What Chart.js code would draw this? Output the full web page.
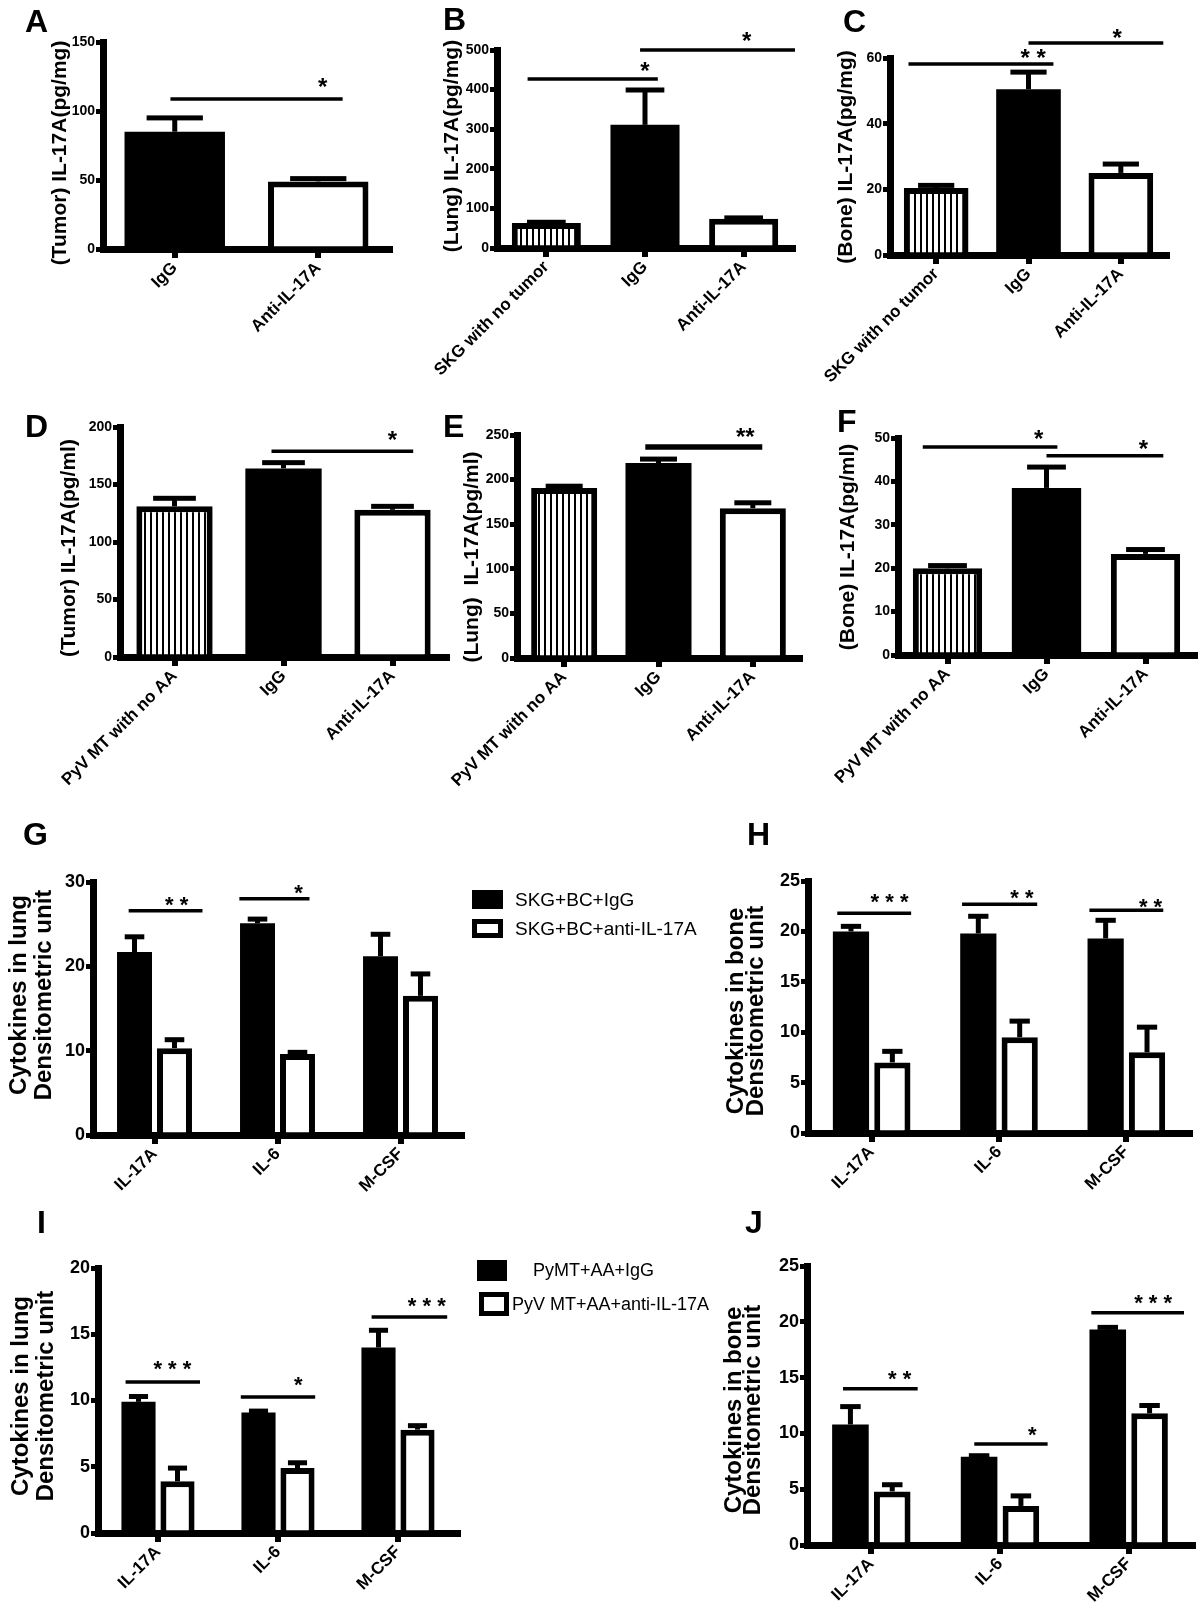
<!DOCTYPE html>
<html>
<head>
<meta charset="utf-8">
<script src="https://cdn.jsdelivr.net/npm/chart.js@4.4.0/dist/chart.umd.min.js"></script>
<style>
  body { margin: 0; background: #fff; width: 1200px; height: 1617px; position: relative; overflow: hidden; }
  canvas { position: absolute; }
</style>
</head>
<body>
<script>
// ---- data ----
const groupsTumor = ["IgG", "Anti-IL-17A"];
const groupsSKG = ["SKG with no tumor", "IgG", "Anti-IL-17A"];
const groupsPyMT = ["PyV MT with no AA", "IgG", "Anti-IL-17A"];
const cytokines = ["IL-17A", "IL-6", "M-CSF"];

const meanA = [85, 49];          const semA = [10, 2];
const meanB = [63, 311, 74];     const semB = [2, 88, 2];
const meanC = [20.4, 50.5, 25];  const semC = [0.8, 5.2, 2.7];
const meanD = [131, 164, 128];   const semD = [7, 5, 3];
const meanE = [190.6, 218.6, 168]; const semE = [2, 4.4, 6];
const meanF = [20, 38.5, 23.3];  const semF = [0.6, 4.8, 1.0];

const legendG = ["SKG+BC+IgG", "SKG+BC+anti-IL-17A"];
const iggG = [21.7, 25.1, 21.2];  const iggSemG = [1.8, 0.5, 2.6];
const antiG = [10.3, 9.6, 16.5];  const antiSemG = [1.0, 0.2, 2.6];
const iggH = [20.0, 19.8, 19.3];  const iggSemH = [0.5, 1.7, 1.8];
const antiH = [7.0, 9.5, 8.0];    const antiSemH = [1.1, 1.6, 2.5];
const legendI = ["PyMT+AA+IgG", "PyV MT+AA+anti-IL-17A"];
const iggI = [9.9, 9.1, 14.0];    const iggSemI = [0.4, 0.1, 1.3];
const antiI = [3.9, 4.9, 7.8];    const antiSemI = [1.0, 0.4, 0.3];
const iggJ = [10.8, 7.9, 19.3];   const iggSemJ = [1.6, 0.1, 0.2];
const antiJ = [4.8, 3.5, 11.8];   const antiSemJ = [0.6, 0.9, 0.7];

// significance bars: [from index, to index, y value, stars, star index]
const sigA = [[-0.03, 1.17, 108.7, "*", 1.03]];
const sigB = [[-0.19, 1.13, 427, "*", 1.0], [0.95, 2.52, 500, "*", 2.03]];
const sigC = [[-0.3, 1.27, 58.2, "* *", 1.05], [1.0, 2.46, 64.6, "*", 1.96]];
const sigD = [[0.89, 2.19, 179, "*", 2.0]];
const sigE = [[0.86, 2.1, 236.5, "**", 1.92]];
const sigF = [[-0.25, 1.11, 47.9, "*", 0.92], [1.0, 2.18, 45.9, "*", 1.98]];
const sigG = [[-0.21, 0.39, 26.6, "* *", 0.18], [0.69, 1.26, 28.0, "*", 1.17]];
const sigH = [[-0.27, 0.31, 21.8, "* * *", 0.14], [0.71, 1.3, 22.7, "* *", 1.18], [1.71, 2.29, 22.1, "* *", 2.19]];
const sigI = [[-0.27, 0.35, 11.4, "* * *", 0.12], [0.69, 1.31, 10.26, "*", 1.17], [1.78, 2.41, 16.3, "* * *", 2.24]];
const sigJ = [[-0.22, 0.36, 14.0, "* *", 0.22], [0.8, 1.37, 9.05, "*", 1.25], [1.71, 2.43, 20.8, "* * *", 2.19]];

const FONT = "'Liberation Sans', Arial, Helvetica, sans-serif";

function stripes() {
  const c = document.createElement('canvas');
  c.width = 6; c.height = 6;
  const g = c.getContext('2d');
  g.fillStyle = '#fff'; g.fillRect(0, 0, 6, 6);
  g.fillStyle = '#000'; g.fillRect(0, 0, 2, 6);
  return g.createPattern(c, 'repeat');
}
const HATCH = stripes();

function overlay(p) {
  return {
    id: 'overlay',
    afterDatasetsDraw(chart) {
      const ctx = chart.ctx, xs = chart.scales.x, ys = chart.scales.y;
      const bx = p.box[0], by = p.box[1];
      ctx.save();
      ctx.fillStyle = '#000';
      ctx.strokeStyle = '#000';
      // error bars (upper only)
      chart.data.datasets.forEach((ds, di) => {
        chart.getDatasetMeta(di).data.forEach((bar, i) => {
          const top = ys.getPixelForValue(ds.data[i] + p.sems[di][i]);
          const cap = bar.width * 0.56;
          ctx.fillRect(bar.x - 2.5, top, 5, bar.y - top);
          ctx.fillRect(bar.x - cap / 2, top - 2.5, cap, 5);
        });
      });
      // significance lines and stars
      p.sig.forEach((s, k) => {
        const y = ys.getPixelForValue(s[2]);
        ctx.lineWidth = p.sigWidth || 3.5;
        ctx.beginPath();
        ctx.moveTo(xs.getPixelForValue(s[0]), y);
        ctx.lineTo(xs.getPixelForValue(s[1]), y);
        ctx.stroke();
        ctx.font = `bold ${p.starSize}px ${FONT}`;
        ctx.textAlign = 'center';
        ctx.textBaseline = 'alphabetic';
        const dy = p.starDy[k];
        ctx.fillText(s[3], xs.getPixelForValue(s[4]), y - dy + 0.52 * p.starSize);
      });
      // y title
      ctx.save();
      ctx.translate(p.title.x - bx, p.title.y - by);
      ctx.rotate(-Math.PI / 2);
      ctx.font = `bold ${p.title.size}px ${FONT}`;
      ctx.textAlign = 'center';
      ctx.textBaseline = 'middle';
      const n = p.title.lines.length;
      p.title.lines.forEach((t, k) => ctx.fillText(t, 0, (k - (n - 1) / 2) * (p.title.gap || 0)));
      ctx.restore();
      // panel letter
      ctx.font = `bold 32px ${FONT}`;
      ctx.textAlign = 'left';
      ctx.textBaseline = 'alphabetic';
      ctx.fillText(p.letter[0], p.letter[1] - bx, p.letter[2] - by);
      // legend
      if (p.legend) {
        ctx.font = `${p.legend.size}px ${FONT}`;
        ctx.textBaseline = 'middle';
        p.legend.items.forEach((it, k) => {
          const [x, y, w, h, tx] = it;
          ctx.fillStyle = '#000';
          ctx.fillRect(x - bx, y - by, w, h);
          if (k === 1) {
            ctx.fillStyle = '#fff';
            ctx.fillRect(x - bx + 5, y - by + 5, w - 10, h - 10);
          }
          ctx.fillStyle = '#000';
          ctx.fillText(chart.data.datasets[k].label, tx - bx, y - by + h / 2 + 1);
        });
      }
      ctx.restore();
    }
  };
}

function makePanel(p) {
  const [bx, by, bw, bh] = p.box;
  const [al, at, ar, ab] = p.area;
  const cv = document.createElement('canvas');
  cv.width = bw; cv.height = bh;
  cv.style.left = bx + 'px'; cv.style.top = by + 'px';
  cv.style.width = bw + 'px'; cv.style.height = bh + 'px';
  document.body.appendChild(cv);
  new Chart(cv, {
    type: 'bar',
    data: { labels: p.labels, datasets: p.datasets },
    options: {
      responsive: false,
      animation: false,
      devicePixelRatio: 1,
      layout: { autoPadding: false, padding: { left: 0, top: at - by, right: bx + bw - ar, bottom: 0 } },
      plugins: { legend: { display: false }, tooltip: { enabled: false } },
      scales: {
        x: {
          grid: { offset: false, drawOnChartArea: false, tickLength: 9, lineWidth: 6, color: '#000' },
          border: { width: 7, color: '#000' },
          ticks: {
            color: '#000', autoSkip: false, maxRotation: 45, minRotation: 45, padding: 0,
            font: { family: FONT, size: p.labelSize, weight: 'bold' }
          },
          afterFit: s => { s.height = by + bh - ab; s.paddingLeft = 0; s.paddingRight = 0; }
        },
        y: {
          min: 0, max: p.max,
          grid: { drawOnChartArea: false, tickLength: 7, lineWidth: 5, color: '#000' },
          border: { width: 7, color: '#000' },
          ticks: {
            stepSize: p.step, color: '#000', padding: 1,
            font: { family: FONT, size: p.tickSize, weight: 'bold' }
          },
          afterFit: s => { s.width = al - bx; s.paddingTop = 0; s.paddingBottom = 0; }
        }
      }
    },
    plugins: [overlay(p)]
  });
}

function single(values, fills) {
  return [{
    data: values,
    backgroundColor: fills,
    borderColor: '#000',
    borderWidth: fills.map(f => (f === '#000' ? 0 : 6)),
    barPercentage: 0.7,
    categoryPercentage: 1
  }];
}
function paired(names, igg, anti) {
  return [
    { label: names[0], data: igg, backgroundColor: '#000', borderWidth: 0,
      barPercentage: 0.875, categoryPercentage: 0.65 },
    { label: names[1], data: anti, backgroundColor: '#fff', borderColor: '#000', borderWidth: 6,
      barPercentage: 0.875, categoryPercentage: 0.65 }
  ];
}

const LUNG = ["Cytokines in lung", "Densitometric unit"];
const BONE = ["Cytokines in bone", "Densitometric unit"];

makePanel({
  box: [0, 0, 400, 400], area: [103, 42, 390, 249], max: 150, step: 50, tickSize: 14, labelSize: 17,
  labels: groupsTumor, datasets: single(meanA, ['#000', '#fff']), sems: [semA],
  sig: sigA, starSize: 24, starDy: [16],
  title: { lines: ["(Tumor) IL-17A(pg/mg)"], x: 60, y: 153, size: 21 }, letter: ["A", 25, 32]
});
makePanel({
  box: [400, 0, 400, 400], area: [497, 50, 793, 248], max: 500, step: 100, tickSize: 14, labelSize: 17,
  labels: groupsSKG, datasets: single(meanB, [HATCH, '#000', '#fff']), sems: [semB],
  sig: sigB, starSize: 24, starDy: [12, 13],
  title: { lines: ["(Lung) IL-17A(pg/mg)"], x: 452, y: 146, size: 21 }, letter: ["B", 443, 30]
});
makePanel({
  box: [800, 0, 400, 400], area: [890, 58, 1167, 255], max: 60, step: 20, tickSize: 14, labelSize: 17,
  labels: groupsSKG, datasets: single(meanC, [HATCH, '#000', '#fff']), sems: [semC],
  sig: sigC, starSize: 24, starDy: [10, 9],
  title: { lines: ["(Bone) IL-17A(pg/mg)"], x: 846, y: 157, size: 21 }, letter: ["C", 843, 32]
});
makePanel({
  box: [0, 400, 460, 410], area: [120, 427, 447, 657], max: 200, step: 50, tickSize: 14, labelSize: 17,
  labels: groupsPyMT, datasets: single(meanD, [HATCH, '#000', '#fff']), sems: [semD],
  sig: sigD, starSize: 24, starDy: [16],
  title: { lines: ["(Tumor) IL-17A(pg/ml)"], x: 69, y: 548, size: 21 }, letter: ["D", 25, 437]
});
makePanel({
  box: [400, 400, 410, 410], area: [517, 435, 800, 658], max: 250, step: 50, tickSize: 14, labelSize: 17,
  labels: groupsPyMT, datasets: single(meanE, [HATCH, '#000', '#fff']), sems: [semE],
  sig: sigE, sigWidth: 5.5, starSize: 24, starDy: [15],
  title: { lines: ["(Lung)  IL-17A(pg/ml)"], x: 472, y: 557, size: 21 }, letter: ["E", 443, 437]
});
makePanel({
  box: [800, 400, 400, 410], area: [898, 438, 1195, 655], max: 50, step: 10, tickSize: 14, labelSize: 17,
  labels: groupsPyMT, datasets: single(meanF, [HATCH, '#000', '#fff']), sems: [semF],
  sig: sigF, starSize: 24, starDy: [13, 11],
  title: { lines: ["(Bone) IL-17A(pg/ml)"], x: 848, y: 547, size: 21 }, letter: ["F", 837, 432]
});
makePanel({
  box: [0, 810, 720, 390], area: [93, 882, 462, 1135], max: 30, step: 10, tickSize: 18, labelSize: 17,
  labels: cytokines, datasets: paired(legendG, iggG, antiG), sems: [iggSemG, antiSemG],
  sig: sigG, starSize: 22, starDy: [10, 10],
  title: { lines: LUNG, x: 32, y: 995, size: 24, gap: 25 }, letter: ["G", 23, 845],
  legend: { size: 19, items: [[472, 890, 31, 19, 515], [472, 919, 31, 19, 515]] }
});
makePanel({
  box: [700, 810, 500, 390], area: [808, 881, 1190, 1133], max: 25, step: 5, tickSize: 18, labelSize: 17,
  labels: cytokines, datasets: paired(legendG, iggH, antiH), sems: [iggSemH, antiSemH],
  sig: sigH, starSize: 22, starDy: [16, 11, 8],
  title: { lines: BONE, x: 746, y: 1011, size: 24, gap: 20 }, letter: ["H", 747, 845]
});
makePanel({
  box: [0, 1200, 720, 417], area: [98, 1268, 458, 1533], max: 20, step: 5, tickSize: 18, labelSize: 17,
  labels: cytokines, datasets: paired(legendI, iggI, antiI), sems: [iggSemI, antiSemI],
  sig: sigI, starSize: 22, starDy: [17, 16, 15],
  title: { lines: LUNG, x: 34, y: 1396, size: 24, gap: 25 }, letter: ["I", 37, 1233],
  legend: { size: 18, items: [[477, 1260, 30, 21, 533], [479, 1292, 30, 24, 512]] }
});
makePanel({
  box: [700, 1200, 500, 417], area: [807, 1266, 1193, 1545], max: 25, step: 5, tickSize: 18, labelSize: 17,
  labels: cytokines, datasets: paired(legendI, iggJ, antiJ), sems: [iggSemJ, antiSemJ],
  sig: sigJ, starSize: 22, starDy: [14, 13, 14],
  title: { lines: BONE, x: 744, y: 1410, size: 24, gap: 19 }, letter: ["J", 745, 1233]
});
</script>
</body>
</html>
